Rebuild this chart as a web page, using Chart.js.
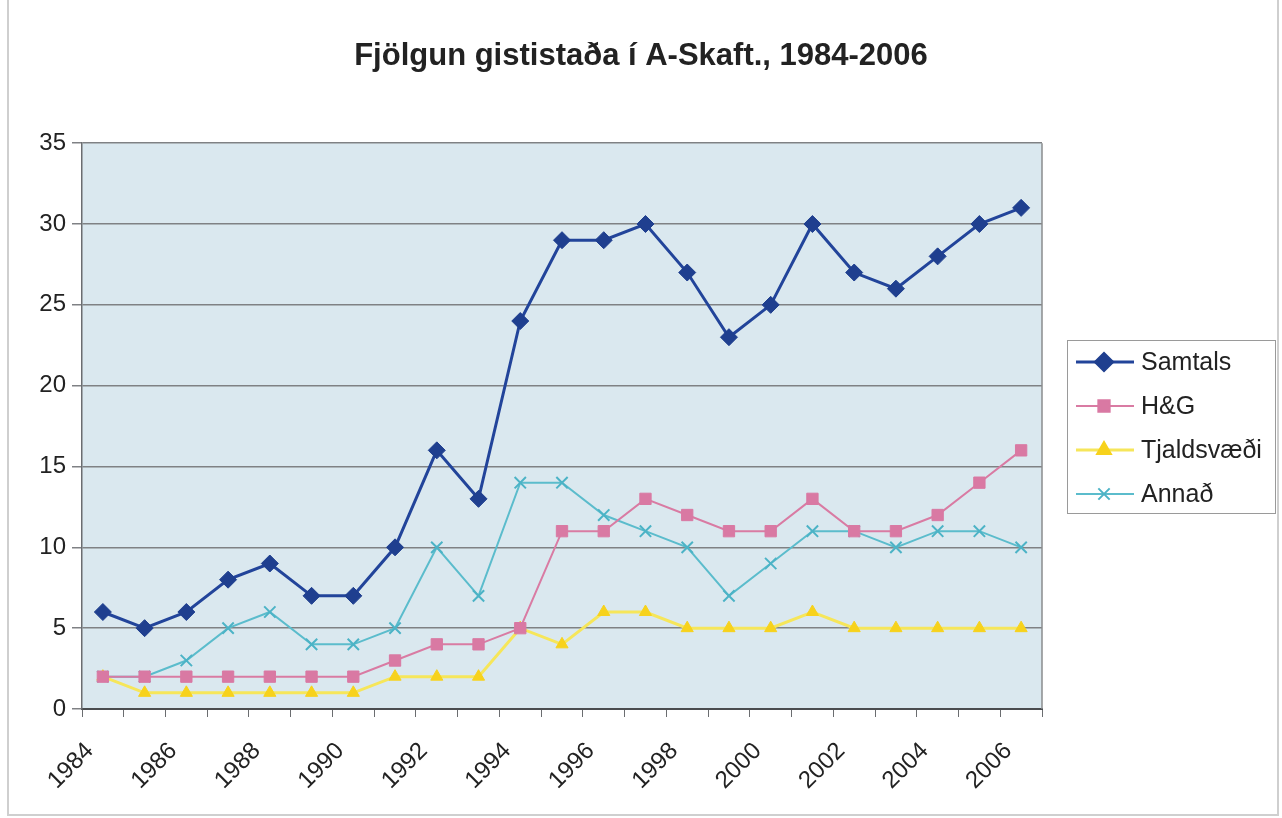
<!DOCTYPE html>
<html>
<head>
<meta charset="utf-8">
<script src="https://cdn.jsdelivr.net/npm/chart.js@4/dist/chart.umd.min.js"></script>
<style>
    html, body { margin: 0; padding: 0; background: #fff; }
    #wrap { width: 1282px; height: 818px; position: relative; }
</style>
</head>
<body>
<div id="wrap"><canvas id="lineChart"></canvas></div>
<script>
// Data
const years = ['1984', '1985', '1986', '1987', '1988', '1989', '1990', '1991', '1992', '1993', '1994',
               '1995', '1996', '1997', '1998', '1999', '2000', '2001', '2002', '2003', '2004', '2005', '2006'];
const samtals     = [6, 5, 6, 8, 9, 7, 7, 10, 16, 13, 24, 29, 29, 30, 27, 23, 25, 30, 27, 26, 28, 30, 31];
const hogG        = [2, 2, 2, 2, 2, 2, 2, 3, 4, 4, 5, 11, 11, 13, 12, 11, 11, 13, 11, 11, 12, 14, 16];
const tjaldsvaedi = [2, 1, 1, 1, 1, 1, 1, 2, 2, 2, 5, 4, 6, 6, 5, 5, 5, 6, 5, 5, 5, 5, 5];
const annad       = [2, 2, 3, 5, 6, 4, 4, 5, 10, 7, 14, 14, 12, 11, 10, 7, 9, 11, 11, 10, 11, 11, 10];
const yTicks = [0, 5, 10, 15, 20, 25, 30, 35];

const FONT = "'Liberation Sans', Arial, sans-serif";

// plot background, outer frame and right edge of the plot area
const framePlugin = {
    id: 'frame',
    beforeDraw(chart) {
        const { ctx, chartArea: a } = chart;
        ctx.save();
        ctx.fillStyle = '#dae8ef';
        ctx.fillRect(a.left, a.top, a.right - a.left, a.bottom - a.top);
        ctx.strokeStyle = '#cfcfcf';
        ctx.lineWidth = 2;
        ctx.beginPath();
        ctx.moveTo(8, 0);
        ctx.lineTo(8, 815);
        ctx.lineTo(1278, 815);
        ctx.lineTo(1278, 0);
        ctx.stroke();
        ctx.restore();
    },
    afterDraw(chart) {
        const { ctx, chartArea: a } = chart;
        ctx.save();
        ctx.strokeStyle = '#8a8c8e';
        ctx.lineWidth = 1.5;
        ctx.beginPath();
        ctx.moveTo(a.right, a.top);
        ctx.lineTo(a.right, a.bottom);
        ctx.stroke();
        ctx.restore();
    }
};

// Excel style legend: line + marker + label inside a box
const boxLegend = {
    id: 'boxLegend',
    afterDraw(chart) {
        const ctx = chart.ctx;
        ctx.save();
        ctx.fillStyle = '#ffffff';
        ctx.fillRect(1067, 340, 208, 173);
        ctx.strokeStyle = '#9a9a9a';
        ctx.lineWidth = 1;
        ctx.strokeRect(1067.5, 340.5, 208, 173);

        chart.data.datasets.forEach((ds, i) => {
            const y = 362 + i * 44;
            ctx.strokeStyle = ds.borderColor;
            ctx.lineWidth = ds.borderWidth;
            ctx.beginPath();
            ctx.moveTo(1076, y);
            ctx.lineTo(1134, y);
            ctx.stroke();

            ctx.fillStyle = ds.pointBackgroundColor;
            ctx.strokeStyle = ds.pointBorderColor;
            Chart.helpers.drawPoint(ctx, {
                pointStyle: ds.pointStyle,
                radius: ds.pointRadius,
                rotation: 0,
                borderWidth: ds.pointBorderWidth
            }, 1104, y);

            ctx.fillStyle = '#222';
            ctx.font = '25px ' + FONT;
            ctx.textBaseline = 'middle';
            ctx.textAlign = 'left';
            ctx.fillText(ds.label, 1141, y + 1);
        });
        ctx.restore();
    }
};

const ctx = document.getElementById('lineChart');

new Chart(ctx, {
    type: 'line',
    data: {
        labels: years,
        datasets: [
            {
                label: 'Samtals',
                data: samtals,
                borderColor: '#22449a',
                borderWidth: 3,
                pointStyle: 'rectRot',
                pointRadius: 8.5,
                pointBackgroundColor: '#1f3f8f',
                pointBorderColor: '#1f3f8f',
                pointBorderWidth: 1,
                tension: 0
            },
            {
                label: 'H&G',
                data: hogG,
                borderColor: '#d97ba3',
                borderWidth: 2,
                pointStyle: 'rect',
                pointRadius: 8,
                pointBackgroundColor: '#d979a3',
                pointBorderColor: '#d979a3',
                pointBorderWidth: 1,
                tension: 0
            },
            {
                label: 'Tjaldsvæði',
                data: tjaldsvaedi,
                borderColor: '#f6e65a',
                borderWidth: 3,
                pointStyle: 'triangle',
                pointRadius: 7,
                pointBackgroundColor: '#f7d21c',
                pointBorderColor: '#f7d21c',
                pointBorderWidth: 1,
                tension: 0
            },
            {
                label: 'Annað',
                data: annad,
                borderColor: '#5bbccc',
                borderWidth: 2,
                pointStyle: 'crossRot',
                pointRadius: 8,
                pointBackgroundColor: '#4cb3c6',
                pointBorderColor: '#4cb3c6',
                pointBorderWidth: 2,
                tension: 0
            }
        ]
    },
    options: {
        responsive: true,
        maintainAspectRatio: false,
        animation: false,
        layout: { padding: 0 },
        plugins: {
            legend: { display: false },
            tooltip: { enabled: false },
            title: {
                display: true,
                text: 'Fjölgun gististaða í A-Skaft., 1984-2006',
                color: '#222',
                font: { family: FONT, size: 31, weight: 'bold', lineHeight: 1.2 },
                padding: { top: 38, bottom: 68 }
            }
        },
        scales: {
            x: {
                offset: true,
                grid: {
                    offset: true,
                    drawOnChartArea: false,
                    drawTicks: true,
                    tickLength: 8,
                    color: '#6b6d70',
                    lineWidth: 1
                },
                border: { color: '#4a4c4f', width: 2 },
                ticks: {
                    autoSkip: false,
                    minRotation: 45,
                    maxRotation: 45,
                    padding: 20,
                    labelOffset: -13,
                    color: '#222',
                    font: { family: FONT, size: 24 },
                    callback: function(value, index) {
                        return index % 2 === 0 ? years[index] : '';
                    }
                },
                afterFit: function(scale) { scale.height = 109; }
            },
            y: {
                min: 0,
                max: 35,
                afterBuildTicks: function(scale) {
                    scale.ticks = yTicks.map(v => ({ value: v }));
                },
                grid: {
                    color: '#7f8184',
                    lineWidth: 1.5,
                    tickLength: 10
                },
                border: { color: '#6b6d70', width: 1.5 },
                ticks: {
                    padding: 6,
                    color: '#222',
                    font: { family: FONT, size: 24 }
                },
                afterFit: function(scale) { scale.width = 82; }
            },
            // empty right-hand axis that keeps room for the legend box
            legendSpace: {
                type: 'linear',
                position: 'right',
                display: true,
                grid: { drawOnChartArea: false, drawTicks: false },
                border: { display: false },
                ticks: { display: false },
                afterFit: function(scale) { scale.width = 240; }
            }
        }
    },
    plugins: [framePlugin, boxLegend]
});
</script>
</body>
</html>
